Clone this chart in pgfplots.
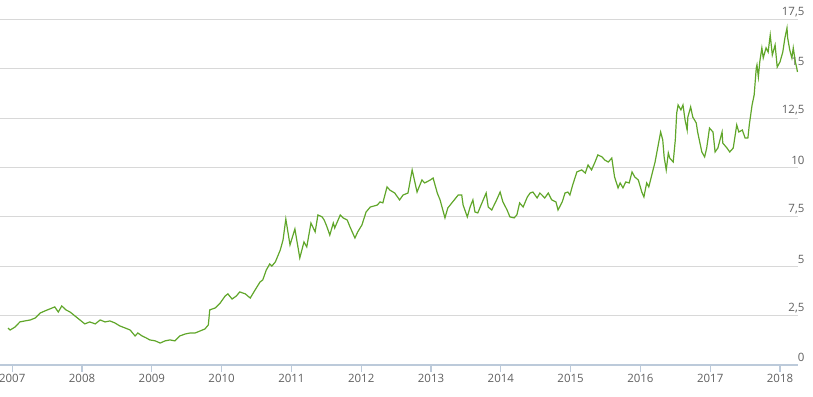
\documentclass[border=0pt]{standalone}
\usepackage{pgfplots}
\pgfplotsset{compat=1.18}
\usepackage{fontspec}
\setmainfont{Open Sans}
\definecolor{linegreen}{RGB}{96,166,42}
\definecolor{gridgray}{RGB}{216,216,216}
\definecolor{axisblue}{RGB}{188,202,218}
\definecolor{labelgray}{RGB}{96,96,96}
\begin{document}
\begin{tikzpicture}
\begin{axis}[
  scale only axis,
  width=598.5pt, height=259.1pt,
  xmin=2006.825, xmax=2018.258,
  ymin=0, ymax=17.5,
  separate axis lines,
  axis x line*=bottom,
  axis y line*=right,
  x axis line style={draw=axisblue, line width=0.9pt},
  y axis line style={draw=none},
  xtick={2007,2008,...,2018},
  ytick={0,2.5,...,17.5},
  xtick style={draw=axisblue, line width=0.8pt},
  ytick style={draw=none},
  tick align=outside,
  major tick length=5pt,
  ymajorgrids,
  grid style={draw=gridgray, line width=0.75pt},
  /pgf/number format/assume math mode=true,
  /pgf/number format/use comma,
  /pgf/number format/1000 sep={},
  tick label style={font=\fontsize{8.6}{10}\selectfont, text=labelgray},
  yticklabel style={anchor=south east, inner sep=0pt, xshift=0pt, yshift=2pt},
  xticklabel style={yshift=1.5pt},
  clip=false,
]
\addplot[linegreen, line width=0.9pt] table {
x y
2006.94 1.87
2006.97 1.77
2007.04 1.92
2007.11 2.18
2007.18 2.23
2007.26 2.28
2007.33 2.38
2007.40 2.63
2007.47 2.74
2007.54 2.84
2007.61 2.94
2007.66 2.68
2007.71 2.99
2007.77 2.79
2007.83 2.68
2007.90 2.48
2007.97 2.28
2008.04 2.08
2008.11 2.18
2008.19 2.08
2008.26 2.28
2008.33 2.18
2008.40 2.23
2008.47 2.13
2008.54 1.98
2008.62 1.87
2008.69 1.77
2008.76 1.47
2008.80 1.62
2008.86 1.47
2008.92 1.37
2008.97 1.27
2009.05 1.22
2009.12 1.11
2009.19 1.22
2009.26 1.27
2009.33 1.22
2009.40 1.47
2009.48 1.57
2009.55 1.62
2009.62 1.62
2009.69 1.72
2009.76 1.82
2009.81 2.03
2009.83 2.79
2009.91 2.89
2009.98 3.14
2010.05 3.49
2010.09 3.60
2010.15 3.34
2010.21 3.49
2010.26 3.70
2010.34 3.60
2010.41 3.39
2010.48 3.80
2010.55 4.20
2010.59 4.31
2010.64 4.81
2010.69 5.12
2010.72 5.01
2010.77 5.22
2010.84 5.82
2010.88 6.33
2010.92 7.39
2010.98 6.08
2011.05 6.89
2011.12 5.42
2011.18 6.23
2011.22 5.98
2011.28 7.19
2011.34 6.74
2011.38 7.60
2011.44 7.50
2011.47 7.34
2011.51 6.99
2011.55 6.58
2011.60 7.19
2011.62 6.94
2011.70 7.60
2011.74 7.45
2011.80 7.34
2011.84 6.99
2011.91 6.43
2011.95 6.74
2012.01 7.09
2012.07 7.75
2012.13 8.00
2012.23 8.10
2012.27 8.26
2012.31 8.21
2012.37 9.02
2012.41 8.86
2012.48 8.71
2012.55 8.36
2012.60 8.61
2012.67 8.71
2012.73 9.88
2012.80 8.76
2012.87 9.37
2012.91 9.22
2012.99 9.37
2013.03 9.47
2013.09 8.71
2013.13 8.36
2013.20 7.45
2013.24 7.95
2013.31 8.26
2013.39 8.61
2013.44 8.61
2013.46 8.10
2013.52 7.50
2013.56 8.00
2013.60 8.36
2013.63 7.75
2013.67 7.70
2013.73 8.21
2013.79 8.71
2013.82 8.00
2013.87 7.85
2013.94 8.36
2013.99 8.76
2014.03 8.26
2014.09 7.85
2014.13 7.50
2014.19 7.45
2014.23 7.60
2014.27 8.21
2014.32 8.00
2014.38 8.51
2014.42 8.71
2014.46 8.76
2014.52 8.46
2014.56 8.71
2014.63 8.46
2014.68 8.71
2014.73 8.36
2014.79 8.26
2014.82 7.85
2014.88 8.26
2014.92 8.71
2014.96 8.76
2014.99 8.61
2015.03 9.12
2015.09 9.78
2015.16 9.88
2015.21 9.72
2015.25 10.13
2015.30 9.88
2015.35 10.28
2015.39 10.64
2015.45 10.54
2015.49 10.38
2015.54 10.28
2015.59 10.48
2015.63 9.52
2015.68 8.97
2015.71 9.22
2015.75 8.97
2015.79 9.27
2015.84 9.22
2015.88 9.78
2015.92 9.52
2015.97 9.37
2016.02 8.76
2016.05 8.51
2016.09 9.22
2016.12 9.02
2016.17 9.72
2016.21 10.28
2016.25 11.04
2016.29 11.80
2016.32 11.40
2016.34 10.54
2016.37 9.88
2016.40 10.74
2016.42 10.48
2016.47 10.28
2016.50 11.40
2016.52 12.76
2016.54 13.17
2016.58 12.92
2016.61 13.17
2016.64 12.41
2016.67 11.90
2016.68 12.56
2016.72 13.07
2016.75 12.56
2016.80 12.26
2016.82 11.80
2016.88 10.79
2016.92 10.54
2016.95 10.99
2016.99 12.00
2017.04 11.80
2017.07 10.79
2017.11 10.99
2017.17 11.80
2017.18 11.24
2017.24 10.99
2017.28 10.79
2017.33 10.99
2017.38 12.16
2017.41 11.80
2017.46 11.90
2017.50 11.50
2017.54 11.50
2017.56 12.16
2017.60 13.17
2017.63 13.68
2017.66 15.04
2017.67 15.20
2017.69 14.59
2017.71 15.35
2017.74 16.06
2017.76 15.55
2017.80 16.06
2017.83 15.85
2017.86 16.71
2017.89 15.70
2017.93 16.21
2017.96 15.09
2018.00 15.35
2018.04 15.85
2018.07 16.56
2018.10 17.07
2018.11 16.56
2018.14 15.95
2018.17 15.55
2018.19 16.06
2018.22 15.35
2018.24 15.04
2018.25 14.84
};
\end{axis}
\pgfresetboundingbox
\path[use as bounding box] ([yshift=-24pt]current axis.south west) rectangle ([xshift=11.25pt,yshift=14.625pt]current axis.north east);
\end{tikzpicture}
\end{document}
